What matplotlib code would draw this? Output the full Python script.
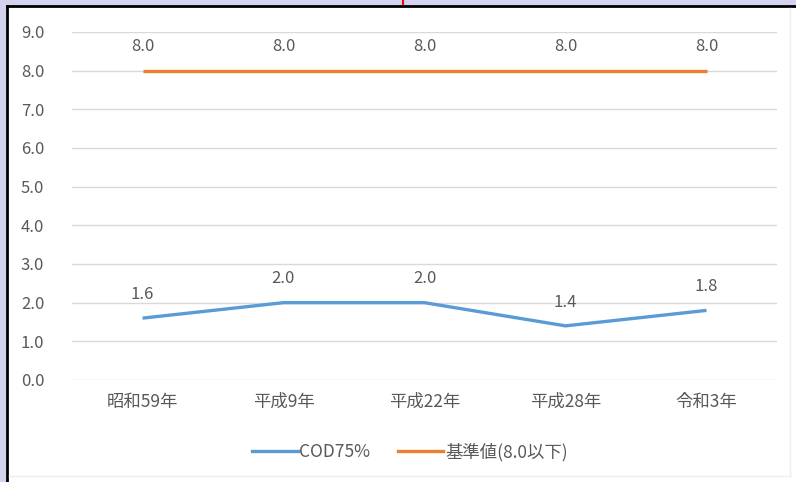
import matplotlib
matplotlib.use('Agg')
import matplotlib.pyplot as plt
from matplotlib.patches import Rectangle
from matplotlib.lines import Line2D

plt.rcParams['font.family'] = ['Noto Sans CJK JP', 'DejaVu Sans']

# Data
categories = ['昭和59年', '平成9年', '平成22年', '平成28年', '令和3年']
cod75 = [1.6, 2.0, 2.0, 1.4, 1.8]
standard = [8.0, 8.0, 8.0, 8.0, 8.0]
series_names = ['COD75%', '基準値(8.0以下)']

W, H = 796, 482
fig = plt.figure(figsize=(W / 100, H / 100), dpi=100)
fig.patch.set_facecolor('white')

# frame around the screenshot
fig.add_artist(Rectangle((0, 0), 6 / W, 1, transform=fig.transFigure, color='#d3d3ef', zorder=0))
fig.add_artist(Rectangle((0, 1 - 5 / H), 1, 5 / H, transform=fig.transFigure, color='#d3d3ef', zorder=0))
fig.add_artist(Line2D([7 / W, 7 / W], [0, 1 - 6 / H], transform=fig.transFigure, color='black', lw=2))
fig.add_artist(Line2D([7 / W, 1], [1 - 6 / H, 1 - 6 / H], transform=fig.transFigure, color='black', lw=2))
fig.add_artist(Line2D([790 / W, 790 / W], [6 / H, 1 - 8 / H], transform=fig.transFigure, color='#eeeeee', lw=1))
fig.add_artist(Line2D([9 / W, 790 / W], [6 / H, 6 / H], transform=fig.transFigure, color='#eeeeee', lw=1))
fig.add_artist(Line2D([403 / W, 403 / W], [1 - 4 / H, 1], transform=fig.transFigure, color='red', lw=1.5))

ax = fig.add_axes([72 / W, 1 - 380 / H, (777 - 72) / W, (380 - 32) / H])
x = list(range(len(categories)))
blue, orange = '#5b9bd5', '#ed7d31'
ax.plot(x, cod75, color=blue, lw=2.4, solid_capstyle='butt', zorder=3)
ax.plot(x, standard, color=orange, lw=2.4, solid_capstyle='butt', zorder=3)

for xi, v in zip(x, cod75):
    ax.annotate('{:.1f}'.format(v), (xi, v), xytext=(0, 11), textcoords='offset points',
                ha='center', va='bottom', fontsize=12, color='#595959')
for xi, v in zip(x, standard):
    ax.annotate('{:.1f}'.format(v), (xi, v), xytext=(0, 11), textcoords='offset points',
                ha='center', va='bottom', fontsize=12, color='#595959')

ax.set_xlim(-0.5, len(categories) - 0.5)
ax.set_ylim(0, 9)
ax.set_yticks([i for i in range(10)])
ax.set_yticklabels(['{:.1f}'.format(i) for i in range(10)])
ax.set_xticks(x)
ax.set_xticklabels(categories)
ax.tick_params(axis='y', length=0, pad=20, labelsize=12, labelcolor='#595959')
ax.tick_params(axis='x', length=0, pad=9, labelsize=12.5, labelcolor='#595959')
ax.grid(axis='y', color='#d9d9d9', lw=1)
ax.set_axisbelow(True)
for s in ax.spines.values():
    s.set_visible(False)

handles = [Line2D([], [], color=blue, lw=2.4), Line2D([], [], color=orange, lw=2.4)]
fig.legend(handles, series_names, loc='center', bbox_to_anchor=(410 / W, 1 - 452 / H),
           ncol=2, frameon=False, fontsize=12.5, labelcolor='#595959',
           handlelength=2.6, handletextpad=0.1, columnspacing=1.6)

fig.savefig('out.png', dpi=100)
